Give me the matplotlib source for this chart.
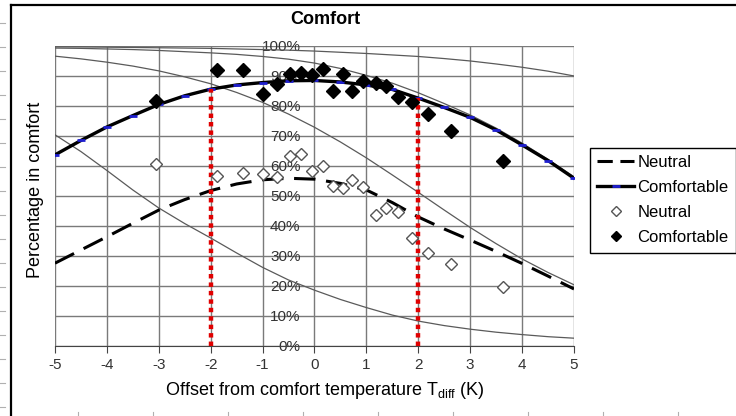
import matplotlib.pyplot as plt
from matplotlib.lines import Line2D

plt.rcParams['font.family'] = ['Liberation Sans', 'DejaVu Sans']
plt.rcParams['axes.unicode_minus'] = False

# fitted curves, read every 0.5 K
t_diff = [-5, -4.5, -4, -3.5, -3, -2.5, -2, -1.5, -1, -0.5, 0,
          0.5, 1, 1.5, 2, 2.5, 3, 3.5, 4, 4.5, 5]
comf_fit = [63.7, 68.5, 73.0, 76.8, 80.5, 83.4, 85.6, 87.0, 87.8, 88.4, 88.5,
            88.0, 87.0, 85.5, 82.6, 79.5, 76.2, 72.0, 67.0, 61.8, 55.9]
neutral_fit = [27.6, 32.0, 36.4, 40.9, 45.3, 48.8, 51.8, 54.0, 55.4, 55.9, 55.6,
               54.2, 52.0, 47.8, 43.0, 39.0, 35.3, 31.5, 27.5, 23.3, 19.0]
# thin grey curves
thin_a = [99.7, 99.7, 99.6, 99.5, 99.4, 99.3, 99.2, 99.0, 98.8, 98.6, 98.3,
          97.9, 97.5, 97.0, 96.5, 95.8, 95.0, 94.0, 92.9, 91.6, 90.0]
thin_d = [99.3, 99.2, 99.0, 98.8, 98.5, 98.1, 97.7, 97.2, 96.5, 95.6, 94.3,
          92.5, 90.2, 87.6, 84.4, 80.8, 77.0, 72.6, 67.6, 62.2, 56.4]
thin_b = [96.6, 95.7, 94.6, 93.3, 91.7, 89.7, 87.4, 84.5, 81.2, 77.3, 72.9,
          68.0, 62.7, 57.0, 51.2, 45.3, 39.5, 34.1, 29.0, 24.5, 20.4]
thin_c = [70.4, 64.8, 58.5, 52.0, 46.0, 40.8, 36.0, 31.0, 26.2, 22.0, 18.6,
          15.5, 12.8, 10.3, 8.3, 6.8, 5.6, 4.6, 3.8, 3.1, 2.6]

# observed points
t_obs = [-3.05, -1.87, -1.38, -1.0, -0.73, -0.48, -0.26, -0.04, 0.17, 0.35,
         0.54, 0.73, 0.94, 1.19, 1.38, 1.61, 1.87, 2.18, 2.63, 3.63]
comf_obs = [81.7, 92.0, 92.0, 84.0, 87.2, 90.8, 91.0, 90.3, 92.2, 85.0,
            90.8, 85.0, 88.4, 87.6, 86.7, 83.1, 81.2, 77.2, 71.8, 61.7]
neutral_obs = [60.5, 56.8, 57.8, 57.2, 56.4, 63.4, 64.0, 58.4, 60.0, 53.3,
               52.6, 55.3, 53.1, 43.7, 45.9, 44.8, 36.0, 31.0, 27.2, 19.5]

limits = [-2, 2]
xticks = [-5, -4, -3, -2, -1, 0, 1, 2, 3, 4, 5]
yticks = [0, 10, 20, 30, 40, 50, 60, 70, 80, 90, 100]

fig = plt.figure(figsize=(7.36, 4.16), dpi=100)
ax = fig.add_axes([0.0747, 0.1683, 0.7052, 0.7212])

grey = '#5a5a5a'
for curve in [thin_a, thin_d, thin_b, thin_c]:
    ax.plot(t_diff, curve, color=grey, lw=0.9, zorder=2)

ax.plot(t_diff, neutral_fit, color='black', lw=2.2, dashes=(7, 3.5), zorder=3)
ax.plot(t_diff, comf_fit, color='black', lw=2.4, marker='_', ms=6, mew=2,
        mec='#1f1fd0', zorder=3)

for x in limits:
    ytop = comf_fit[t_diff.index(x)]
    ax.plot([x, x], [0, ytop], color='#e00000', lw=3.2,
            linestyle=(0, (1, 0.9)), solid_capstyle='butt', zorder=4)

ax.plot(t_obs, neutral_obs, 'D', ms=6.5, mfc='white', mec='#555555', mew=1, ls='none', zorder=5)
ax.plot(t_obs, comf_obs, 'D', ms=7, color='black', ls='none', zorder=5)

ax.set_xlim(-5, 5)
ax.set_ylim(0, 100)
ax.set_xticks(xticks)
ax.set_yticks(yticks)
ax.set_yticklabels([f'{v}%' for v in yticks])
ax.grid(True, color='#7a7a7a', lw=1)
ax.set_axisbelow(True)
for i, gl in enumerate(ax.yaxis.get_gridlines()):
    if yticks[i] in (0, 30, 80):
        gl.set_color('#444444')
        gl.set_linewidth(1.4)

ax.spines['left'].set_position(('data', 0))
ax.spines['left'].set_visible(False)
ax.spines['top'].set_visible(False)
ax.spines['right'].set_visible(False)
ax.spines['bottom'].set_color('#444444')
ax.tick_params(axis='y', length=0, pad=10, labelsize=11, colors='#333333')
ax.tick_params(axis='x', length=5, color='#444444', pad=4, labelsize=11, colors='#333333')
for lbl in ax.get_yticklabels():
    lbl.set_zorder(6)

ax.set_title('Comfort', fontsize=13, fontweight='bold', x=0.52, pad=16)
ax.set_xlabel(r'Offset from comfort temperature T$_{\mathregular{diff}}$ (K)',
              fontsize=13)
ax.xaxis.set_label_coords(0.52, -0.115)
ax.set_ylabel('Percentage in comfort', fontsize=13)
ax.yaxis.set_label_coords(-0.022, 0.52)

handles = [
    Line2D([], [], color='black', lw=2.2, dashes=(5, 2.5)),
    Line2D([], [], color='black', lw=2.4, marker='_', ms=6, mew=2, mec='#1f1fd0'),
    Line2D([], [], ls='none', marker='D', ms=5.5, mfc='white', mec='#555555'),
    Line2D([], [], ls='none', marker='D', ms=5.5, color='black'),
]
fig.legend(handles, ['Neutral', 'Comfortable', 'Neutral', 'Comfortable'],
           loc='upper left', bbox_to_anchor=(0.8016, 0.645), fontsize=12,
           frameon=True, fancybox=False, edgecolor='black', framealpha=1,
           handlelength=2.2, handletextpad=0.2, labelspacing=0.6,
           borderpad=0.45, borderaxespad=0)

# page frame and scan ruler marks
fig.add_artist(Line2D([10.5 / 736, 10.5 / 736], [0, 1 - 5 / 416], color='black', lw=1.6))
fig.add_artist(Line2D([10.5 / 736, 1], [1 - 5 / 416, 1 - 5 / 416], color='black', lw=1.6))
for k in range(17):
    yy = 1 - (215 + 24 * (k - 8)) / 416
    if 0 < yy < 0.97:
        fig.add_artist(Line2D([0, 5 / 736], [yy, yy], color='#b0b0b0', lw=0.8))
for k in range(10):
    xx = (78 + 75 * k) / 736
    if xx < 1:
        fig.add_artist(Line2D([xx, xx], [0, 4 / 416], color='#b0b0b0', lw=0.8))

fig.savefig('out.png', dpi=100)
